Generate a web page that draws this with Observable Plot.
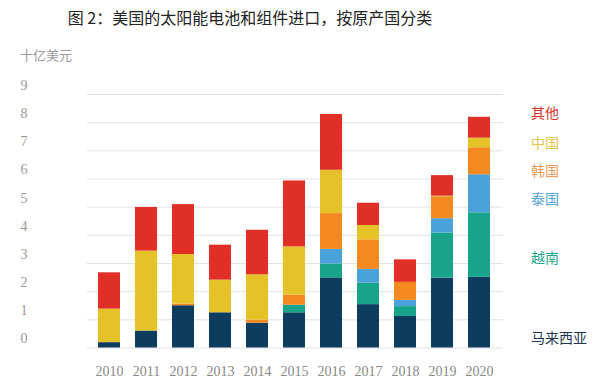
<!DOCTYPE html>
<html>
<head>
<meta charset="utf-8">
<script src="https://cdn.jsdelivr.net/npm/d3@7"></script>
<script src="https://cdn.jsdelivr.net/npm/@observablehq/plot@0.6"></script>
<style>
  body { margin: 0; background: #fff; }
  #wrap { position: relative; width: 608px; height: 386px; overflow: hidden; background: #fff; }
  #title { position: absolute; left: 0; width: 500px; top: 7px; text-align: center; font-family: "Noto Sans CJK SC", sans-serif; font-size: 16px; color: #222; line-height: 20px; }
  #unit { position: absolute; left: 20px; top: 47px; font-family: "Noto Sans CJK SC", serif; font-size: 13px; color: #999; line-height: 16px; }
  #chart { position: absolute; left: 0; top: 40px; }
  .lg { position: absolute; left: 531px; font-family: "Noto Sans CJK SC", serif; font-size: 14px; line-height: 14px; }
</style>
</head>
<body>
<div id="wrap">
  <div id="title">图 2：美国的太阳能电池和组件进口，按原产国分类</div>
  <div id="unit">十亿美元</div>
  <div id="chart"></div>
  <div id="legend"></div>
</div>
<script>
const years = ["2010","2011","2012","2013","2014","2015","2016","2017","2018","2019","2020"];
const seriesNames = ["马来西亚","越南","泰国","韩国","中国","其他"];
const malaysia = [0.19, 0.60, 1.50, 1.25, 0.88, 1.25, 2.49, 1.54, 1.12, 2.48, 2.51];
const vietnam  = [0,    0,    0,    0,    0,    0.27, 0.49, 0.76, 0.35, 1.60, 2.29];
const thailand = [0,    0,    0,    0,    0,    0,    0.52, 0.49, 0.22, 0.51, 1.35];
const korea    = [0,    0,    0.06, 0,    0.11, 0.36, 1.27, 1.05, 0.64, 0.78, 0.96];
const china    = [1.19, 2.84, 1.76, 1.16, 1.61, 1.71, 1.54, 0.51, 0,    0.02, 0.34];
const other    = [1.29, 1.55, 1.77, 1.24, 1.58, 2.34, 1.98, 0.79, 0.80, 0.73, 0.74];
const yTicks = [0,1,2,3,4,5,6,7,8,9];
const barColors = ["#0d3d5e","#17a48a","#4ba1d9","#f4891f","#e6c229","#df2f27"];
const legendColors = ["#1c3550","#22a58c","#55a5d8","#ee9c55","#e3c44e","#d9342c"];

const seriesValues = [malaysia, vietnam, thailand, korea, china, other];
const table = [];
seriesNames.forEach((s, i) => years.forEach((y, j) => table.push({year: y, series: s, value: seriesValues[i][j]})));

const chart = Plot.plot({
  width: 608,
  height: 346,
  marginLeft: 78,
  marginRight: 98,
  marginTop: 54,
  marginBottom: 38.5,
  style: {background: "transparent"},
  x: {domain: years, padding: 0.4, label: null},
  y: {domain: [0, 9], label: null},
  color: {domain: seriesNames, range: barColors},
  marks: [
    Plot.ruleY(yTicks, {stroke: "#e2e2e2", strokeWidth: 1, insetLeft: 9, insetRight: 7}),
    Plot.barY(table, Plot.stackY({x: "year", y: "value", fill: "series", order: seriesNames})),
    Plot.axisX({tickSize: 0, tickPadding: 18, fontSize: 14, fill: "#888", fontFamily: "Liberation Serif, serif", label: null}),
    Plot.axisY({ticks: yTicks, tickSize: 0, tickPadding: 54.5, textAnchor: "middle", dy: -9, fontSize: 14, fill: "#999", fontFamily: "Liberation Serif, serif", label: null, tickFormat: d => String(d)})
  ]
});
document.getElementById("chart").appendChild(chart);

// legend labels (right side, top to bottom)
const legendTop = {"其他": 105, "中国": 135, "韩国": 163, "泰国": 191, "越南": 250, "马来西亚": 330};
const lg = document.getElementById("legend");
seriesNames.slice().reverse().forEach(s => {
  const d = document.createElement("div");
  d.className = "lg";
  d.textContent = s;
  d.style.top = legendTop[s] + "px";
  d.style.color = legendColors[seriesNames.indexOf(s)];
  lg.appendChild(d);
});
</script>
</body>
</html>
